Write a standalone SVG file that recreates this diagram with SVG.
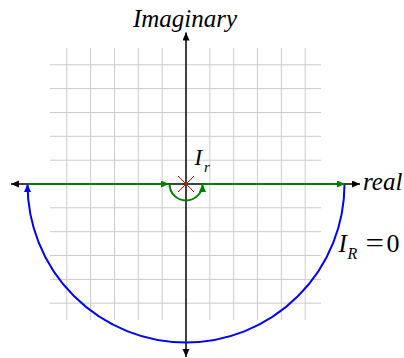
<svg xmlns="http://www.w3.org/2000/svg" width="404" height="358" viewBox="0 0 404 358">
<defs>
<style>
.grid line{stroke:#cccccc;stroke-width:1}
.axis{stroke:#000;stroke-width:1.5;fill:none}
.blue{stroke:#0000ff;stroke-width:2;fill:none}
.green{stroke:#008000;stroke-width:2;fill:none}
.lbl{font-family:"Liberation Serif","Times New Roman",serif;font-style:italic;fill:#000}
.up{font-style:normal}
</style>
<marker id="ak" markerUnits="userSpaceOnUse" markerWidth="9" markerHeight="8" refX="8" refY="3.5" orient="auto-start-reverse"><path d="M0,0 L8,3.5 L0,7 z" fill="#000"/></marker>
<marker id="ab" markerUnits="userSpaceOnUse" markerWidth="9" markerHeight="8" refX="8" refY="3.5" orient="auto"><path d="M0,0 L8,3.5 L0,7 z" fill="#0000ff"/></marker>
<marker id="ag" markerUnits="userSpaceOnUse" markerWidth="9" markerHeight="8" refX="8" refY="3.5" orient="auto"><path d="M0,0 L8,3.5 L0,7 z" fill="#008000"/></marker>
</defs>
<rect width="404" height="358" fill="#fff"/>
<g id="grid" class="grid">
<line x1="66.8" y1="48" x2="66.8" y2="320"/>
<line x1="90.6" y1="48" x2="90.6" y2="320"/>
<line x1="114.5" y1="48" x2="114.5" y2="320"/>
<line x1="138.3" y1="48" x2="138.3" y2="320"/>
<line x1="162.2" y1="48" x2="162.2" y2="320"/>
<line x1="209.8" y1="48" x2="209.8" y2="320"/>
<line x1="233.7" y1="48" x2="233.7" y2="320"/>
<line x1="257.5" y1="48" x2="257.5" y2="320"/>
<line x1="281.4" y1="48" x2="281.4" y2="320"/>
<line x1="305.2" y1="48" x2="305.2" y2="320"/>
<line x1="50" y1="64.8" x2="321" y2="64.8"/>
<line x1="50" y1="88.6" x2="321" y2="88.6"/>
<line x1="50" y1="112.5" x2="321" y2="112.5"/>
<line x1="50" y1="136.3" x2="321" y2="136.3"/>
<line x1="50" y1="160.2" x2="321" y2="160.2"/>
<line x1="50" y1="207.8" x2="321" y2="207.8"/>
<line x1="50" y1="231.7" x2="321" y2="231.7"/>
<line x1="50" y1="255.5" x2="321" y2="255.5"/>
<line x1="50" y1="279.4" x2="321" y2="279.4"/>
<line x1="50" y1="303.2" x2="321" y2="303.2"/>
</g>
<g id="axes">
<line class="axis" x1="186" y1="357" x2="186" y2="32.5" marker-start="url(#ak)" marker-end="url(#ak)"/>
<line class="axis" x1="11" y1="184" x2="360" y2="184" marker-start="url(#ak)" marker-end="url(#ak)"/>
</g>
<g id="connectors">
<path class="blue" d="M344.5,184 A158.5,158.5 0 0 1 27.5,184" marker-end="url(#ab)"/>
<path class="green" d="M27.5,184 H169" marker-end="url(#ag)"/>
<path class="green" d="M169.5,184 A16.5,16.5 0 0 0 202.5,184" marker-end="url(#ag)"/>
<path class="green" d="M202.5,184 H345" marker-end="url(#ag)"/>
</g>
<g id="pole" stroke="#ff0000" stroke-width="1">
<line x1="178" y1="176" x2="194" y2="192"/>
<line x1="178" y1="192" x2="194" y2="176"/>
</g>
<g id="labels">
<text class="lbl" x="185" y="26.5" font-size="25" text-anchor="middle">Imaginary</text>
<text class="lbl" x="363" y="190" font-size="25">real</text>
<text class="lbl" x="194.5" y="165" font-size="23">I</text>
<text class="lbl" x="204" y="171.5" font-size="15">r</text>
<text class="lbl" x="338.5" y="252" font-size="25">I</text>
<text class="lbl" x="347.5" y="258.5" font-size="16">R</text>
<text class="lbl up" x="365.5" y="251.6" font-size="28" textLength="18.5" lengthAdjust="spacingAndGlyphs">=</text>
<text class="lbl up" x="386.5" y="252" font-size="26">0</text>
</g>
</svg>
